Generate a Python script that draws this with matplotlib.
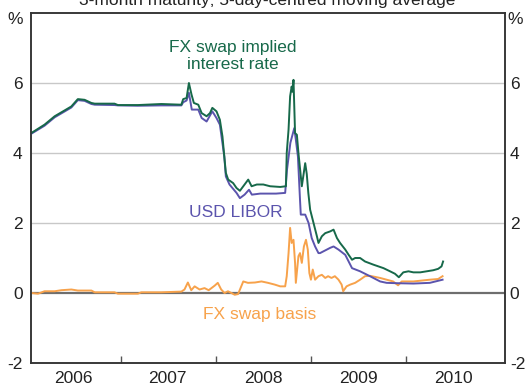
import pandas as pd
import matplotlib
matplotlib.use("Agg")
import matplotlib.pyplot as plt
import matplotlib.dates as mdates

plt.rcParams['font.family'] = ['Liberation Sans', 'DejaVu Sans']
plt.rcParams['axes.unicode_minus'] = False

#FX swap implied US dollar rate (3-month, %)
fx_dates = ['2006-01-22', '2006-03-14', '2006-04-22', '2006-05-31', '2006-06-25', '2006-07-20',
            '2006-08-15', '2006-09-10', '2006-09-23', '2006-12-08', '2006-12-21', '2007-03-08',
            '2007-06-06', '2007-08-22', '2007-08-29', '2007-09-11', '2007-09-20', '2007-09-30',
            '2007-10-09', '2007-10-26', '2007-11-08', '2007-11-27', '2007-12-10', '2007-12-19',
            '2008-01-04', '2008-01-17', '2008-01-27', '2008-02-03', '2008-02-09', '2008-02-18',
            '2008-03-08', '2008-03-21', '2008-04-03', '2008-04-16', '2008-05-05', '2008-05-18',
            '2008-06-07', '2008-07-02', '2008-07-28', '2008-09-05', '2008-09-27', '2008-09-30',
            '2008-10-07', '2008-10-13', '2008-10-19', '2008-10-22', '2008-10-26', '2008-11-01',
            '2008-11-08', '2008-11-14', '2008-11-27', '2008-12-10', '2008-12-16', '2008-12-22',
            '2008-12-29', '2009-01-11', '2009-01-24', '2009-01-30', '2009-02-12', '2009-02-25',
            '2009-03-16', '2009-03-29', '2009-04-11', '2009-04-23', '2009-05-13', '2009-05-26',
            '2009-06-08', '2009-06-20', '2009-07-09', '2009-07-28', '2009-08-29', '2009-10-07',
            '2009-11-01', '2009-11-20', '2009-12-05', '2009-12-22', '2010-01-11', '2010-01-30',
            '2010-02-25', '2010-03-22', '2010-04-16', '2010-05-05', '2010-05-18', '2010-05-24']
fx_implied = [4.57, 4.81, 5.05, 5.22, 5.33, 5.54,
              5.52, 5.43, 5.41, 5.41, 5.37, 5.37,
              5.40, 5.38, 5.54, 5.57, 6.00, 5.67,
              5.43, 5.38, 5.14, 5.05, 5.14, 5.29,
              5.19, 4.95, 4.47, 3.90, 3.43, 3.24,
              3.14, 3.00, 2.92, 3.05, 3.24, 3.05,
              3.10, 3.10, 3.05, 3.03, 3.05, 4.00,
              4.67, 5.62, 5.90, 5.75, 6.09, 4.57,
              4.52, 4.00, 3.05, 3.71, 3.40, 2.86,
              2.38, 2.00, 1.62, 1.43, 1.62, 1.71,
              1.76, 1.81, 1.57, 1.43, 1.24, 1.09,
              0.95, 1.00, 1.00, 0.90, 0.81, 0.71,
              0.62, 0.55, 0.45, 0.59, 0.62, 0.59,
              0.59, 0.62, 0.65, 0.69, 0.76, 0.90]

#USD LIBOR (3-month, %)
libor_dates = ['2006-01-22', '2006-03-14', '2006-04-22', '2006-05-31', '2006-06-25', '2006-07-20',
               '2006-08-15', '2006-09-10', '2006-09-23', '2006-12-08', '2006-12-21', '2007-03-08',
               '2007-06-06', '2007-08-22', '2007-08-29', '2007-09-11', '2007-09-20', '2007-10-01',
               '2007-10-26', '2007-11-08', '2007-11-27', '2007-12-19', '2008-01-04', '2008-01-17',
               '2008-02-03', '2008-02-09', '2008-02-23', '2008-03-21', '2008-04-03', '2008-04-21',
               '2008-05-08', '2008-05-19', '2008-06-20', '2008-08-20', '2008-09-24', '2008-10-01',
               '2008-10-14', '2008-10-29', '2008-11-04', '2008-11-12', '2008-11-20', '2008-11-23',
               '2008-12-10', '2008-12-23', '2009-01-04', '2009-01-17', '2009-01-30', '2009-02-05',
               '2009-03-16', '2009-03-29', '2009-04-17', '2009-05-13', '2009-06-08', '2009-07-09',
               '2009-08-16', '2009-09-24', '2009-10-19', '2009-11-27', '2010-01-30', '2010-04-03',
               '2010-05-22']
libor = [4.55, 4.78, 5.02, 5.19, 5.30, 5.51,
         5.49, 5.40, 5.38, 5.37, 5.36, 5.35,
         5.36, 5.36, 5.45, 5.50, 5.72, 5.24,
         5.24, 5.00, 4.90, 5.19, 5.00, 4.81,
         3.90, 3.33, 3.10, 2.86, 2.71, 2.81,
         2.95, 2.81, 2.84, 2.84, 2.86, 3.52,
         4.29, 4.71, 4.38, 3.90, 2.67, 2.24,
         2.24, 2.00, 1.57, 1.33, 1.14, 1.14,
         1.29, 1.33, 1.24, 1.09, 0.71, 0.62,
         0.48, 0.33, 0.29, 0.28, 0.27, 0.29,
         0.38]

#FX swap basis (percentage points)
basis_dates = ['2006-01-22', '2006-02-17', '2006-03-14', '2006-04-22', '2006-05-18', '2006-06-25',
               '2006-07-20', '2006-09-10', '2006-09-23', '2006-12-08', '2006-12-21', '2007-03-08',
               '2007-03-21', '2007-06-06', '2007-08-22', '2007-09-03', '2007-09-16', '2007-09-29',
               '2007-10-12', '2007-10-31', '2007-11-19', '2007-12-05', '2007-12-28', '2008-01-09',
               '2008-01-22', '2008-02-04', '2008-02-17', '2008-03-14', '2008-03-27', '2008-04-16',
               '2008-05-04', '2008-05-31', '2008-06-25', '2008-07-20', '2008-08-15', '2008-09-05',
               '2008-09-24', '2008-09-30', '2008-10-07', '2008-10-13', '2008-10-19', '2008-10-26',
               '2008-11-01', '2008-11-04', '2008-11-14', '2008-11-20', '2008-11-27', '2008-12-05',
               '2008-12-13', '2008-12-20', '2008-12-26', '2009-01-01', '2009-01-08', '2009-01-17',
               '2009-01-30', '2009-02-12', '2009-02-25', '2009-03-08', '2009-03-21', '2009-04-03',
               '2009-04-17', '2009-04-29', '2009-05-05', '2009-05-18', '2009-06-01', '2009-06-20',
               '2009-07-09', '2009-07-28', '2009-08-16', '2009-09-05', '2009-09-24', '2009-10-19',
               '2009-11-13', '2009-12-02', '2009-12-16', '2010-01-30', '2010-04-03', '2010-05-05',
               '2010-05-22']
basis = [0.00, -0.02, 0.05, 0.05, 0.08, 0.10,
         0.07, 0.07, 0.02, 0.02, -0.02, -0.02,
         0.02, 0.02, 0.04, 0.10, 0.30, 0.08,
         0.19, 0.10, 0.14, 0.08, 0.21, 0.29,
         0.10, 0.00, 0.05, -0.05, -0.03, 0.33,
         0.29, 0.30, 0.33, 0.29, 0.24, 0.19,
         0.19, 0.48, 1.14, 1.86, 1.43, 1.52,
         0.86, 0.29, 1.05, 1.14, 0.86, 1.33,
         1.52, 1.24, 0.57, 0.38, 0.67, 0.38,
         0.48, 0.52, 0.43, 0.48, 0.43, 0.48,
         0.38, 0.24, 0.05, 0.19, 0.24, 0.29,
         0.38, 0.48, 0.49, 0.46, 0.43, 0.38,
         0.33, 0.22, 0.33, 0.33, 0.38, 0.40,
         0.48]

y_ticks = [-2, 0, 2, 4, 6]
year_marks = ['2007-01-01', '2008-01-01', '2009-01-01', '2010-01-01']

GREEN = '#17694a'
PURPLE = '#5b54ad'
ORANGE = '#f7a24b'

fig = plt.figure(figsize=(5.27, 3.85), dpi=100)
ax = fig.add_axes([31 / 527, 22 / 385, 474 / 527, 350 / 385])

#gridlines and the zero line sit under the series
for v in [2, 4, 6]:
    ax.axhline(v, color='#c8c8c8', lw=1.0, zorder=0)
ax.axhline(0, color='#6e6e6e', lw=1.6, zorder=1)

ax.plot(pd.to_datetime(basis_dates), basis, color=ORANGE, lw=1.4, zorder=2)
ax.plot(pd.to_datetime(libor_dates), libor, color=PURPLE, lw=1.4, zorder=3)
ax.plot(pd.to_datetime(fx_dates), fx_implied, color=GREEN, lw=1.4, zorder=4)

ax.set_ylim(-2, 8)
ax.set_xlim(pd.Timestamp('2006-01-21'), pd.Timestamp('2011-01-17'))

#years: tick marks at the boundaries, labels in the middle of each year
ax.set_xticks(pd.to_datetime(year_marks))
ax.xaxis.set_major_formatter(plt.NullFormatter())
ax.xaxis.set_minor_locator(mdates.MonthLocator(bymonth=7))
ax.xaxis.set_minor_formatter(mdates.DateFormatter('%Y'))
ax.tick_params(axis='x', which='major', direction='in', length=5, width=1, color='#555555')
ax.tick_params(axis='x', which='minor', length=0, pad=6, labelsize=12.5, labelcolor='#222222')

ax.set_yticks(y_ticks)
ax.tick_params(axis='y', length=0, labelsize=12.5, labelcolor='#222222', pad=6)

#same scale repeated on the right, sitting a little closer to the frame
ax_r = ax.twinx()
ax_r.set_ylim(ax.get_ylim())
ax_r.set_yticks(y_ticks)
ax_r.tick_params(axis='y', length=0, labelsize=12.5, labelcolor='#222222', pad=3.5)

for a in (ax, ax_r):
    for s in a.spines.values():
        s.set_color('#333333')
        s.set_linewidth(1.1)

#series labels
ax.text(0.426, 0.877, 'FX swap implied\ninterest rate', transform=ax.transAxes, ha='center',
        va='center', fontsize=12.5, color=GREEN, linespacing=1.15)
ax.text(0.432, 0.429, 'USD LIBOR', transform=ax.transAxes, ha='center', va='center',
        fontsize=12.5, color=PURPLE)
ax.text(0.483, 0.14, 'FX swap basis', transform=ax.transAxes, ha='center', va='center',
        fontsize=12.5, color=ORANGE)

fig.text(15 / 527, 1 - 20 / 385, '%', ha='center', va='center', fontsize=12.5, color='#222222')
fig.text(515 / 527, 1 - 20 / 385, '%', ha='center', va='center', fontsize=12.5, color='#222222')
fig.text(267 / 527, 1 - 5 / 385, '3-month maturity; 5-day-centred moving average', ha='center',
         va='baseline', fontsize=12.5, color='#222222')

fig.savefig('out.png', dpi=100)
